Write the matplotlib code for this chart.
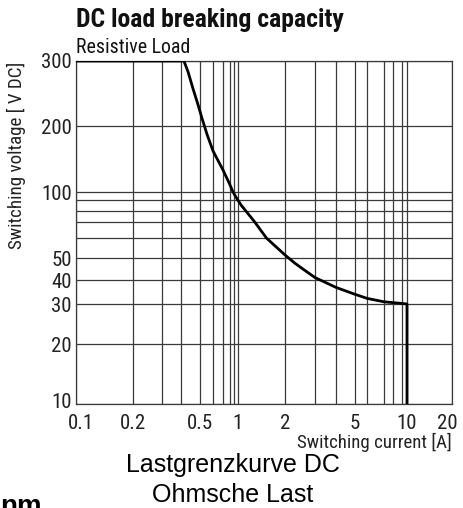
import numpy as np
import matplotlib
matplotlib.use("Agg")
import matplotlib.pyplot as plt
import matplotlib.transforms as mtransforms
from matplotlib.ticker import FixedLocator, FixedFormatter, NullFormatter

# ---------------- data ----------------
current_A = [0.1, 0.414, 0.434, 0.46, 0.489, 0.514, 0.552, 0.6, 0.7, 0.8,
             0.877, 0.98, 1.05, 1.13, 1.28, 1.52, 2.0, 2.28, 2.56, 3.0,
             4.0, 5.0, 6.0, 7.0, 8.0, 9.0, 10.0, 10.0]
voltage_V = [300, 300, 281, 253, 228, 210, 183, 154, 126, 109,
             100, 91, 85, 79.5, 70, 60, 51.4, 47.5, 44.6, 41,
             36.6, 33.7, 32.1, 30.8, 30.5, 30.2, 30, 10]

x_grid_values = [0.1, 0.2, 0.3, 0.4, 0.5, 0.6, 0.7, 0.8, 0.9, 1,
                 2, 3, 4, 5, 6, 7, 8, 9, 10, 20]
y_grid_values = [10, 20, 30, 40, 50, 60, 70, 80, 90, 100, 200, 300]

x_tick_values = [0.1, 0.2, 0.5, 1, 2, 5, 10, 20]
x_tick_labels = ["0.1", "0.2", "0.5", "1", "2", "5", "10", "20"]
y_tick_values = [10, 20, 30, 40, 50, 100, 200, 300]
y_tick_labels = ["10", "20", "30", "40", "50", "100", "200", "300"]

# printed (unevenly drawn) log grid of the original sheet, used as the axis scale
x_scale_pos = [76, 133, 162, 181, 200, 213, 223, 229.5, 234, 238,
               285, 315, 336, 355, 367, 384, 393, 402, 407, 452]
y_scale_pos = [404, 344, 304, 280, 258, 238, 222, 211, 200, 192, 126, 61]

# ---------------- scales ----------------
lx = np.log10(x_grid_values)
ly = np.log10(y_grid_values)
px = np.array(x_scale_pos, dtype=float)
py = -np.array(y_scale_pos, dtype=float)


def fx(v):
    v = np.clip(np.asarray(v, dtype=float), 1e-9, None)
    return np.interp(np.log10(v), lx, px)


def ix(u):
    return 10 ** np.interp(u, px, lx)


def fy(v):
    v = np.clip(np.asarray(v, dtype=float), 1e-9, None)
    return np.interp(np.log10(v), ly, py)


def iy(u):
    return 10 ** np.interp(u, py, ly)


narrow = ["Roboto Condensed", "DejaVu Sans"]
regular = ["Liberation Sans", "DejaVu Sans"]

W, H = 463, 508
fig = plt.figure(figsize=(W / 100, H / 100), dpi=100)
ax = fig.add_axes([76 / W, 1 - 404 / H, 376 / W, 343 / H])
ax.set_xscale("function", functions=(fx, ix))
ax.set_yscale("function", functions=(fy, iy))
ax.set_xlim(0.1, 20)
ax.set_ylim(10, 300)

grid_c = "#3a3a3a"
for xv in x_grid_values:
    ax.axvline(xv, color=grid_c, lw=0.9, zorder=1)
for yv in y_grid_values:
    ax.axhline(yv, color=grid_c, lw=0.9, zorder=1)

ax.plot(current_A, voltage_V, color="black", lw=2.0, zorder=3,
        solid_joinstyle="round", solid_capstyle="butt")

ax.xaxis.set_major_locator(FixedLocator(x_tick_values))
ax.xaxis.set_major_formatter(FixedFormatter(x_tick_labels))
ax.xaxis.set_minor_locator(FixedLocator([]))
ax.xaxis.set_minor_formatter(NullFormatter())
ax.yaxis.set_major_locator(FixedLocator(y_tick_values))
ax.yaxis.set_major_formatter(FixedFormatter(y_tick_labels))
ax.yaxis.set_minor_locator(FixedLocator([]))
ax.yaxis.set_minor_formatter(NullFormatter())
ax.tick_params(axis="both", length=0, labelsize=15, colors="#222222")
ax.tick_params(axis="x", pad=7)
ax.tick_params(axis="y", pad=3)
for lab in ax.get_xticklabels() + ax.get_yticklabels():
    lab.set_family(narrow)

# small nudges so that the corner labels sit apart as in the original
xt = ax.xaxis.get_major_ticks()
yt = ax.yaxis.get_major_ticks()
shift_right = mtransforms.ScaledTranslation(5 / 100, 0, fig.dpi_scale_trans)
shift_left = mtransforms.ScaledTranslation(-5 / 100, 0, fig.dpi_scale_trans)
shift_up = mtransforms.ScaledTranslation(0, 4 / 100, fig.dpi_scale_trans)
xt[0].label1.set_transform(xt[0].label1.get_transform() + shift_right)
xt[-1].label1.set_transform(xt[-1].label1.get_transform() + shift_left)
yt[0].label1.set_transform(yt[0].label1.get_transform() + shift_up)

for s in ax.spines.values():
    s.set_color(grid_c)
    s.set_linewidth(0.9)

fig.text(76 / W, 1 - 27 / H, "DC load breaking capacity", family=narrow,
         fontweight="bold", fontsize=18.5, va="baseline", ha="left", color="#111111")
fig.text(76 / W, 1 - 53 / H, "Resistive Load", family=narrow,
         fontsize=14.3, va="baseline", ha="left", color="#111111")
fig.text(16 / W, 1 - 155 / H, "Switching voltage [ V DC]", family=narrow,
         fontsize=13.7, rotation=90, va="center", ha="center", color="#222222")
fig.text(452 / W, 1 - 442 / H, "Switching current [A]", family=narrow,
         fontsize=13.6, va="center", ha="right", color="#222222")

fig.text(233 / W, 1 - 472 / H, "Lastgrenzkurve DC", family=regular,
         fontsize=18, va="baseline", ha="center", color="black")
fig.text(233 / W, 1 - 502 / H, "Ohmsche Last", family=regular,
         fontsize=18, va="baseline", ha="center", color="black")
fig.text(0, 1 - 514 / H, "nm", family=regular,
         fontsize=20, fontweight="bold", va="baseline", ha="left", color="black")

fig.savefig("out.png", dpi=100)
